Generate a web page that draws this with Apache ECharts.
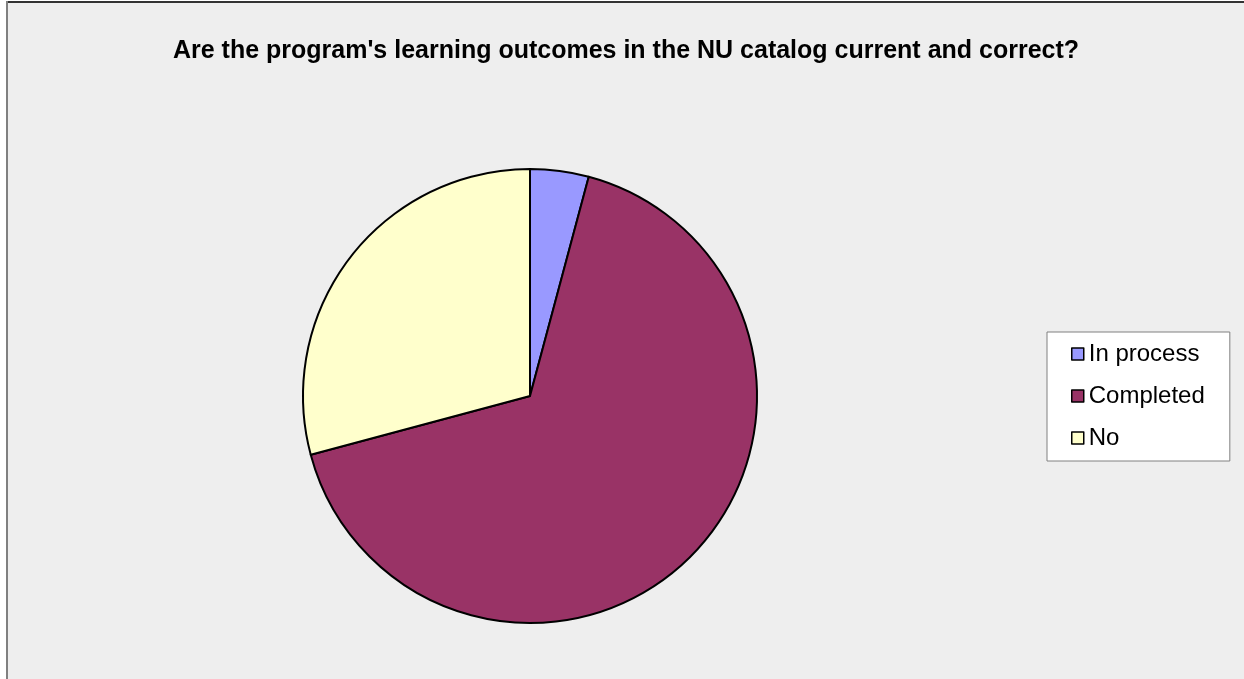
<!DOCTYPE html>
<html>
<head>
<meta charset="utf-8">
<script src="https://cdn.jsdelivr.net/npm/echarts@6/dist/echarts.min.js"></script>
<style>
  html, body { margin: 0; padding: 0; background: #ffffff; }
  #chart { width: 1244px; height: 679px; }
</style>
</head>
<body>
<div id="chart"></div>
<script>
// Survey answers for the catalog question
const categories = ['In process', 'Completed', 'No'];
const counts = [1, 16, 7];
const colors = ['#9999FF', '#993366', '#FFFFCC'];
const titleText = "Are the program's learning outcomes in the NU catalog current and correct?";

const chart = echarts.init(document.getElementById('chart'));

chart.setOption({
  animation: false,
  backgroundColor: '#ffffff',
  graphic: [
    { type: 'rect', shape: { x: 6, y: 1, width: 1300, height: 700 }, style: { fill: '#eeeeee' }, z: -10 },
    { type: 'line', shape: { x1: 6, y1: 2, x2: 1300, y2: 2 }, style: { stroke: '#333333', lineWidth: 2 }, z: -9 },
    { type: 'line', shape: { x1: 7, y1: 1, x2: 7, y2: 700 }, style: { stroke: '#808080', lineWidth: 2 }, z: -9 }
  ],
  title: {
    text: titleText,
    left: 621,
    textAlign: 'center',
    top: 34,
    textStyle: {
      fontFamily: 'Liberation Sans, Arial, sans-serif',
      fontSize: 25,
      fontWeight: 'bold',
      color: '#000000'
    }
  },
  legend: {
    orient: 'vertical',
    left: 1047,
    top: 332,
    padding: [9, 25, 10, 24],
    itemGap: 16,
    itemWidth: 12,
    itemHeight: 12,
    icon: 'rect',
    backgroundColor: '#ffffff',
    borderColor: '#808080',
    borderWidth: 1,
    data: categories,
    itemStyle: { borderColor: '#000000', borderWidth: 1.5 },
    textStyle: {
      fontFamily: 'Liberation Sans, Arial, sans-serif',
      fontSize: 24,
      color: '#000000',
      lineHeight: 26
    }
  },
  series: [{
    type: 'pie',
    center: [530, 396],
    radius: 227,
    startAngle: 90,
    clockwise: true,
    label: { show: false },
    labelLine: { show: false },
    emphasis: { disabled: true },
    itemStyle: { borderColor: '#000000', borderWidth: 2 },
    data: categories.map((name, i) => ({
      name,
      value: counts[i],
      itemStyle: { color: colors[i] }
    }))
  }]
});
</script>
</body>
</html>
